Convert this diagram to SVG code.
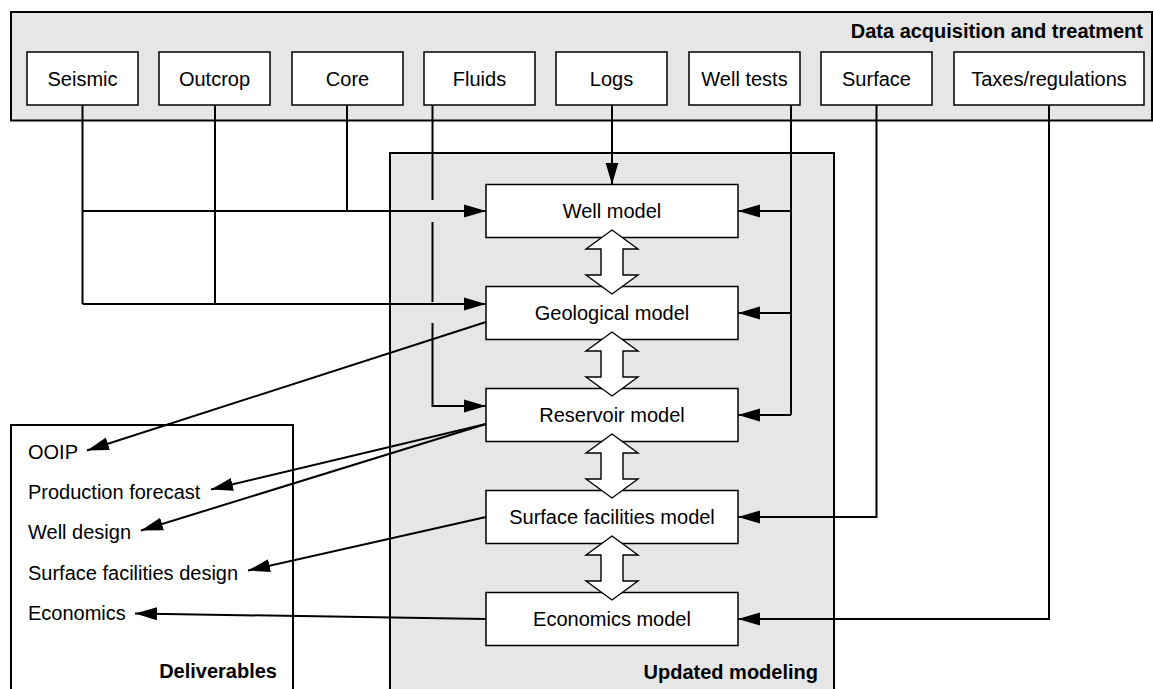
<svg xmlns="http://www.w3.org/2000/svg" width="1153" height="689" viewBox="0 0 1153 689">
<style>
.panel{fill:#e6e6e6;stroke:#000;stroke-width:2}
.white{fill:#fff;stroke:#000;stroke-width:2}
.box{fill:#fff;stroke:#000;stroke-width:1.5}
.t{font-family:"Liberation Sans",Arial,sans-serif;font-size:20px;fill:#000}
.c{text-anchor:middle}
.b{font-weight:bold;text-anchor:end}
.ln{fill:none;stroke:#000;stroke-width:2}
.arr{marker-end:url(#ah)}
.dbl{fill:#fff;stroke:#000;stroke-width:1.4}
</style>
<defs>
<marker id="ah" markerUnits="userSpaceOnUse" markerWidth="24" markerHeight="16" viewBox="0 -8 24 16" refX="22" refY="0" orient="auto">
<path d="M0,-6.5 L22,0 L0,6.5 Z" fill="#000"/>
</marker>
<path id="darrow" d="M0,0 L26,19 L11,19 L11,45 L26,45 L0,64 L-26,45 L-11,45 L-11,19 L-26,19 Z"/>
</defs>

<g id="data-acquisition">
<rect class="panel" x="11" y="12" width="1141" height="108.5"/>
<text class="t b" x="1143" y="38">Data acquisition and treatment</text>
</g>
<g id="updated-modeling">
<rect class="panel" x="390" y="153" width="444" height="545"/>
<text class="t b" x="818" y="679">Updated modeling</text>
</g>
<g id="deliverables">
<rect class="white" x="11" y="425" width="282" height="273"/>
<text class="t" x="28" y="459">OOIP</text>
<text class="t" x="28" y="499">Production forecast</text>
<text class="t" x="28" y="539">Well design</text>
<text class="t" x="28" y="580">Surface facilities design</text>
<text class="t" x="28" y="620">Economics</text>
<text class="t b" x="277" y="678">Deliverables</text>
</g>

<g id="seismic"><rect class="box" x="27" y="52" width="111" height="53"/><text class="t c" x="82.5" y="86">Seismic</text></g>
<g id="outcrop"><rect class="box" x="159" y="52" width="111" height="53"/><text class="t c" x="214.5" y="86">Outcrop</text></g>
<g id="core"><rect class="box" x="292" y="52" width="111" height="53"/><text class="t c" x="347.5" y="86">Core</text></g>
<g id="fluids"><rect class="box" x="424" y="52" width="111" height="53"/><text class="t c" x="479.5" y="86">Fluids</text></g>
<g id="logs"><rect class="box" x="556" y="52" width="111" height="53"/><text class="t c" x="611.5" y="86">Logs</text></g>
<g id="well-tests"><rect class="box" x="689" y="52" width="111" height="53"/><text class="t c" x="744.5" y="86">Well tests</text></g>
<g id="surface"><rect class="box" x="821" y="52" width="111" height="53"/><text class="t c" x="876.5" y="86">Surface</text></g>
<g id="taxes"><rect class="box" x="954" y="52" width="190" height="53"/><text class="t c" x="1049" y="86">Taxes/regulations</text></g>

<g id="well-model"><rect class="box" x="486" y="184.5" width="252" height="53"/><text class="t c" x="612" y="218">Well model</text></g>
<g id="geological-model"><rect class="box" x="486" y="286.5" width="252" height="53"/><text class="t c" x="612" y="320">Geological model</text></g>
<g id="reservoir-model"><rect class="box" x="486" y="388.5" width="252" height="53"/><text class="t c" x="612" y="422">Reservoir model</text></g>
<g id="surface-facilities-model"><rect class="box" x="486" y="490.5" width="252" height="53"/><text class="t c" x="612" y="524">Surface facilities model</text></g>
<g id="economics-model"><rect class="box" x="486" y="592.5" width="252" height="53"/><text class="t c" x="612" y="626">Economics model</text></g>

<g id="connectors">
<!-- Seismic / Outcrop / Core -->
<path class="ln" d="M82.5,105 V304"/>
<path class="ln" d="M215,105 V304"/>
<path class="ln" d="M347,105 V211"/>
<path class="ln arr" d="M82.5,211 H486"/>
<path class="ln arr" d="M82.5,304 H486"/>
<!-- Fluids with line hops -->
<path class="ln" d="M432.5,105 V200"/>
<path class="ln" d="M432.5,222 V302"/>
<path class="ln arr" d="M432.5,323 V406 H486"/>
<!-- Logs -->
<path class="ln arr" d="M612,105 V184.5"/>
<!-- Well tests -->
<path class="ln" d="M791,105 V415"/>
<path class="ln arr" d="M791,211 H738"/>
<path class="ln arr" d="M791,313 H738"/>
<path class="ln arr" d="M791,415 H738"/>
<!-- Surface -->
<path class="ln arr" d="M876.5,105 V517 H738"/>
<!-- Taxes -->
<path class="ln arr" d="M1049,105 V619 H738"/>
<!-- Outputs to deliverables -->
<path class="ln arr" d="M486,322 L87,450.5"/>
<path class="ln arr" d="M486,424 L211,489.5"/>
<path class="ln arr" d="M486,424 L141,530.5"/>
<path class="ln arr" d="M486,517 L248,570.5"/>
<path class="ln arr" d="M486,619 L135,613.5"/>
<!-- Double arrows between models -->
<use href="#darrow" class="dbl" x="612" y="230"/>
<use href="#darrow" class="dbl" x="612" y="332"/>
<use href="#darrow" class="dbl" x="612" y="434"/>
<use href="#darrow" class="dbl" x="612" y="536"/>
</g>
</svg>
